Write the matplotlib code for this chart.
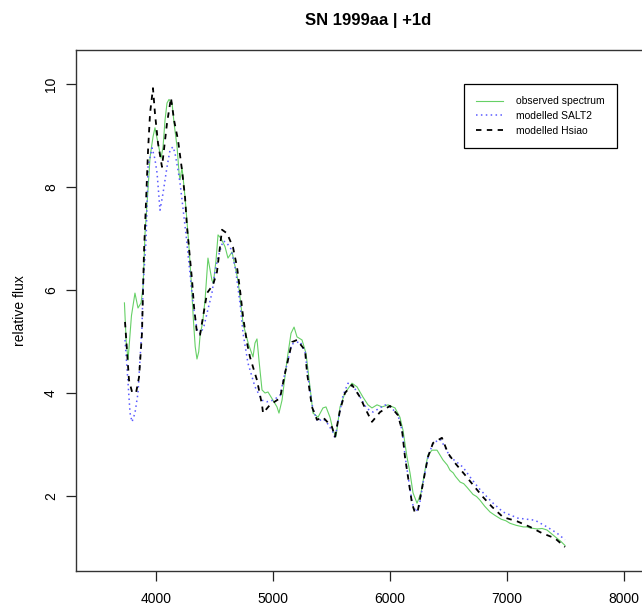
import matplotlib
matplotlib.use("Agg")
import matplotlib.pyplot as plt

# observed spectrum (green)
wl_obs = [3730, 3745, 3761, 3790, 3820, 3846, 3872, 3889, 3906, 3930, 3949, 3974,
          3991, 4017, 4043, 4060, 4077, 4094, 4111, 4137, 4154, 4180, 4197, 4205,
          4222, 4231, 4248, 4280, 4300, 4320, 4335, 4350, 4365, 4376, 4400, 4419,
          4444, 4478, 4490, 4513, 4530, 4556, 4590, 4615, 4650, 4667, 4701, 4744,
          4790, 4829, 4846, 4863, 4880, 4906, 4932, 4957, 5000, 5034, 5051, 5077,
          5120, 5154, 5180, 5205, 5248, 5282, 5316, 5342, 5385, 5427, 5453, 5487,
          5513, 5538, 5573, 5615, 5675, 5718, 5769, 5812, 5846, 5889, 5932, 5983,
          6043, 6085, 6111, 6145, 6171, 6197, 6231, 6265, 6299, 6325, 6359, 6402,
          6453, 6490, 6513, 6540, 6560, 6600, 6630, 6658, 6710, 6740, 6769, 6810,
          6855, 6900, 6950, 6990, 7026, 7080, 7140, 7170, 7197, 7260, 7300, 7342,
          7390, 7427, 7460, 7496]
fl_obs = [5.75, 5.0, 4.64, 5.5, 5.94, 5.65, 5.75, 6.06, 7.1, 7.9, 8.58, 8.97,
          9.15, 8.85, 8.56, 8.78, 9.3, 9.63, 9.7, 9.63, 9.24, 8.78, 8.27, 8.14,
          8.37, 8.19, 7.8, 6.9, 6.2, 5.4, 4.9, 4.66, 4.8, 5.1, 5.4, 5.8,
          6.62, 6.19, 6.13, 6.58, 7.07, 7.0, 6.84, 6.62, 6.74, 6.55, 6.19, 5.35,
          4.95, 4.7, 4.97, 5.05, 4.64, 4.06, 4.0, 4.02, 3.86, 3.73, 3.61, 3.86,
          4.64, 5.16, 5.28, 5.09, 5.03, 4.77, 4.12, 3.61, 3.53, 3.71, 3.73, 3.53,
          3.28, 3.15, 3.73, 4.0, 4.19, 4.12, 3.92, 3.77, 3.71, 3.77, 3.73, 3.77,
          3.71, 3.53, 3.28, 2.76, 2.45, 2.06, 1.86, 2.06, 2.5, 2.8, 2.89, 2.89,
          2.7, 2.6, 2.5, 2.45, 2.38, 2.27, 2.24, 2.17, 2.03, 1.99, 1.92, 1.80,
          1.69, 1.62, 1.55, 1.52, 1.47, 1.43, 1.40, 1.40, 1.38, 1.36, 1.37, 1.34,
          1.25, 1.18, 1.12, 1.04]

# modelled SALT2 (blue dotted)
wl_salt = [3735, 3761, 3778, 3795, 3820, 3846, 3863, 3880, 3889, 3915, 3932, 3966,
           3990, 4009, 4034, 4060, 4094, 4120, 4145, 4162, 4188, 4205, 4230, 4260,
           4300, 4330, 4355, 4380, 4410, 4436, 4478, 4504, 4530, 4573, 4600, 4640,
           4680, 4720, 4744, 4786, 4846, 4906, 4949, 5000, 5060, 5103, 5160, 5231,
           5274, 5300, 5340, 5380, 5430, 5462, 5510, 5530, 5560, 5598, 5641, 5690,
           5750, 5800, 5855, 5957, 6010, 6068, 6103, 6130, 6160, 6190, 6222, 6250,
           6290, 6330, 6368, 6430, 6470, 6513, 6570, 6624, 6684, 6760, 6872, 6966,
           7094, 7239, 7342, 7427, 7496]
fl_salt = [5.03, 4.19, 3.61, 3.44, 3.61, 4.0, 4.64, 5.28, 6.06, 6.97, 8.39, 8.76,
           8.55, 8.27, 7.55, 7.88, 8.39, 8.72, 8.78, 8.66, 8.33, 8.08, 7.6, 7.0,
           6.1, 5.5, 5.2, 5.15, 5.3, 5.55, 5.94, 6.35, 6.64, 6.95, 6.93, 6.8,
           6.4, 5.7, 5.16, 4.58, 4.12, 3.86, 3.83, 3.86, 3.95, 4.4, 4.95, 5.0,
           4.8, 4.3, 3.7, 3.45, 3.5, 3.42, 3.25, 3.12, 3.5, 3.95, 4.19, 4.12,
           3.9, 3.7, 3.63, 3.77, 3.72, 3.57, 3.28, 2.76, 2.3, 1.86, 1.69, 1.8,
           2.35, 2.8, 3.03, 3.1, 2.95, 2.76, 2.66, 2.56, 2.37, 2.15, 1.88, 1.69,
           1.57, 1.53, 1.40, 1.28, 1.15]

# modelled Hsiao (black dashed)
wl_hsiao = [3735, 3769, 3795, 3829, 3855, 3880, 3897, 3915, 3932, 3949, 3974, 3991,
            4017, 4051, 4094, 4128, 4154, 4188, 4222, 4248, 4265, 4308, 4325, 4350,
            4376, 4436, 4487, 4521, 4564, 4607, 4658, 4692, 4718, 4744, 4778, 4803,
            4863, 4906, 4915, 4974, 5060, 5103, 5163, 5205, 5274, 5291, 5333, 5376,
            5427, 5504, 5530, 5573, 5615, 5675, 5744, 5786, 5846, 5915, 6000, 6068,
            6103, 6128, 6154, 6188, 6214, 6239, 6282, 6325, 6368, 6444, 6496, 6556,
            6641, 6726, 6795, 6872, 6966, 7085, 7197, 7299, 7410, 7496]
fl_hsiao = [5.38, 4.25, 4.02, 4.0, 4.31, 5.16, 6.72, 7.74, 8.72, 9.43, 9.92, 9.43,
            8.85, 8.39, 9.24, 9.73, 9.3, 8.91, 8.33, 7.8, 7.22, 6.19, 5.67, 5.16,
            5.13, 5.94, 6.1, 6.35, 7.17, 7.1, 6.83, 6.45, 6.0, 5.48, 4.97, 4.7,
            4.25, 3.77, 3.61, 3.77, 3.9, 4.39, 4.99, 5.03, 4.83, 4.39, 3.73, 3.48,
            3.53, 3.34, 3.15, 3.67, 4.0, 4.16, 3.92, 3.71, 3.44, 3.63, 3.75, 3.57,
            3.28, 2.76, 2.37, 1.86, 1.67, 1.73, 2.25, 2.76, 3.03, 3.13, 2.83, 2.64,
            2.41, 2.17, 1.98, 1.79, 1.59, 1.51, 1.40, 1.28, 1.18, 1.01]

xticks = [4000, 5000, 6000, 7000, 8000]
yticks = [2, 4, 6, 8, 10]

plt.rcParams['font.family'] = ['Liberation Sans', 'DejaVu Sans']

fig = plt.figure(figsize=(6.42, 6.05), dpi=100)
ax = fig.add_axes([76 / 642, 1 - 571 / 605, 584 / 642, 521 / 605])

ax.plot(wl_obs, fl_obs, color='#66d066', lw=0.8, label='observed spectrum')
ax.plot(wl_salt, fl_salt, color='#5a5aff', lw=1.1, linestyle=(0, (1, 2.2)),
        label='modelled SALT2')
ax.plot(wl_hsiao, fl_hsiao, color='black', lw=1.3, linestyle=(0, (3, 3)),
        label='modelled Hsiao')

ax.set_xlim(3316, 8308)
ax.set_ylim(0.544, 10.66)
ax.set_xticks(xticks)
ax.set_yticks(yticks)
ax.tick_params(direction='out', length=7, width=0.9, labelsize=10, color='#222222')
ax.tick_params(axis='x', pad=8)
ax.tick_params(axis='y', pad=6)
for lab in ax.get_yticklabels():
    lab.set_rotation(90)
    lab.set_va('center')
for sp in ax.spines.values():
    sp.set_color('#333333')
    sp.set_linewidth(1.0)

ax.set_ylabel('relative flux', fontsize=10, labelpad=12)
fig.text(368 / 642, 1 - 21 / 605, 'SN 1999aa | +1d', ha='center', va='center',
         fontsize=12, fontweight='bold')

leg = ax.legend(loc='upper right', bbox_to_anchor=(0.926, 0.935), fontsize=7.5,
                frameon=True, fancybox=False, edgecolor='black', framealpha=1,
                borderaxespad=0, handlelength=2.6, borderpad=1.2,
                labelspacing=0.45, handletextpad=1.2)
leg.get_frame().set_linewidth(0.9)

fig.savefig('out.png', dpi=100)
